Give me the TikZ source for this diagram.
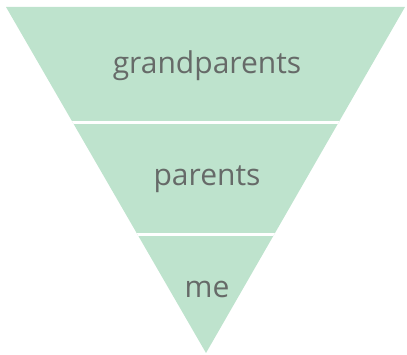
\documentclass[tikz,border=0pt]{standalone}
\usepackage{fontspec}
\setmainfont{Open Sans}
\definecolor{tri}{HTML}{BEE3CD}
\definecolor{txt}{HTML}{666A68}
\begin{document}
\begin{tikzpicture}[x=1pt,y=1pt,
  lbl/.style={text=txt,font=\fontsize{30}{33}\selectfont,inner sep=0pt,anchor=base}]
\useasboundingbox (0,0) rectangle (407,355);
\begin{scope}
\clip (6,348) -- (405,348) -- (206,2) -- cycle;
\fill[tri] (0,0) rectangle (407,355);
\draw[white,line width=3pt] (0,232) -- (407,232);
\draw[white,line width=3pt] (0,120) -- (407,120);
\end{scope}
\node[lbl] (g) at (207,281) {grandparents};
\node[lbl] (p) at (207,169) {parents};
\node[lbl] (m) at (207,57) {me};
\end{tikzpicture}
\end{document}
